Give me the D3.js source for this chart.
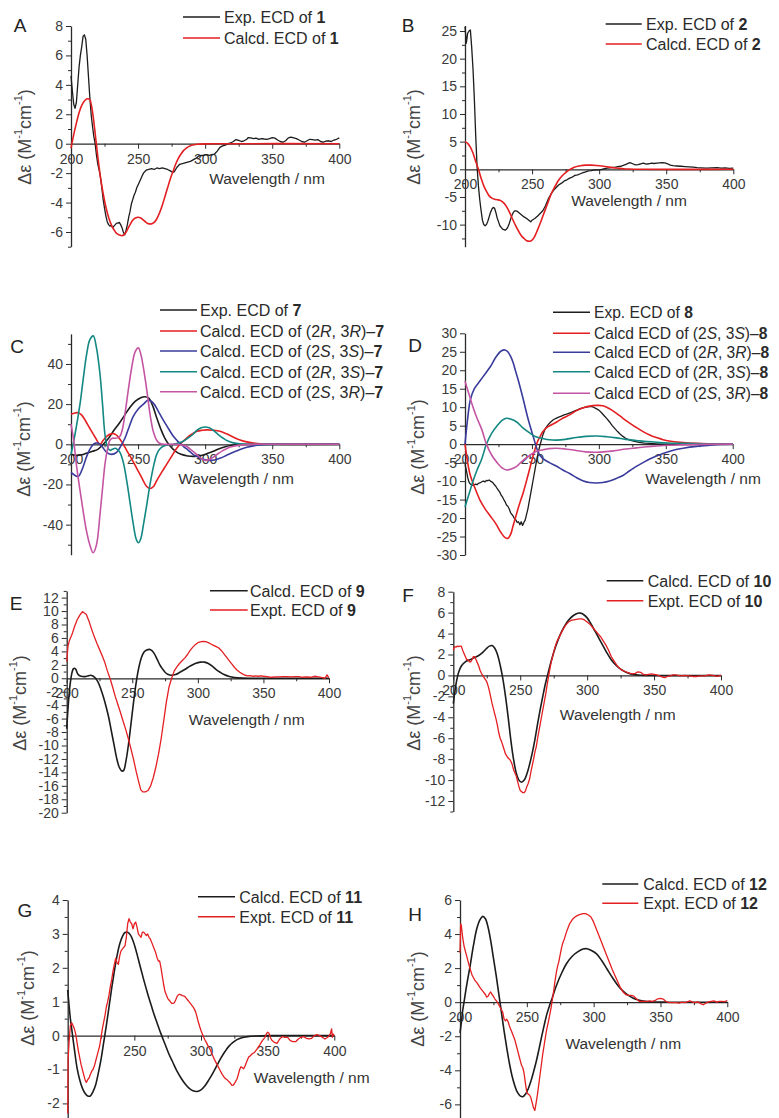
<!DOCTYPE html>
<html><head><meta charset="utf-8">
<script src="https://cdn.jsdelivr.net/npm/d3@7/dist/d3.min.js"></script>
<style>
body{margin:0;background:#fff;}
svg{display:block;}
text{font-family:"Liberation Sans",Arial,Helvetica,sans-serif;}
</style>
</head><body>
<svg id="c" width="779" height="1118"></svg>
<script>
// ---------------- DATA ----------------
const xTicks = [200,250,300,350,400];
const xMinor = [225,275,325,375];

const A_exp = [[200,4.6],[201,3.6],[202,2.7],[203,2.4],[204,2.8],[205,4.0],[206,5.2],[207,6.0],[208,6.6],[209,7.3],[210,7.4],[211,7.1],[212,6.0],[213,4.6],[214,3.2],[215,2.0],[216,1.2],[217,0.5],[218,0],[219,-0.8],[220,-1.4],[221,-1.8],[222,-2.3],[223,-3.0],[224,-3.8],[225,-4.4],[226,-4.9],[227,-5.3],[228,-5.5],[229,-5.6],[230,-5.55],[231,-5.7],[232,-5.6],[233,-5.5],[234,-5.4],[235,-5.4],[236,-5.35],[237,-5.5],[238,-5.7],[239,-6.0],[240,-6.2],[241,-5.9],[242,-5.5],[243,-5.0],[244,-4.6],[245,-4.1],[246,-3.8],[247,-3.5],[248,-3.3],[249,-3.0],[250,-2.8],[251,-2.6],[252,-2.4],[253,-2.2],[254,-2.0],[256,-1.8],[258,-1.75],[260,-1.7],[262,-1.75],[264,-1.65],[266,-1.7],[268,-1.65],[270,-1.7],[272,-1.75],[274,-1.85],[276,-1.95],[277,-1.9],[279,-1.6],[281,-1.4],[283,-1.35],[285,-1.3],[287,-1.25],[289,-1.2],[291,-1.1],[293,-1.0],[295,-0.85],[297,-0.8],[299,-0.8],[301,-0.75],[303,-0.8],[305,-0.75],[307,-0.7],[309,-0.5],[311,-0.25],[313,-0.15],[315,-0.1],[317,0],[319,0.05],[321,0.15],[323,0.28],[325,0.22],[327,0.15],[329,0.2],[331,0.3],[332,0.42],[334,0.4],[336,0.35],[338,0.38],[340,0.3],[342,0.35],[344,0.32],[346,0.3],[348,0.35],[350,0.42],[352,0.38],[354,0.25],[356,0.15],[358,0.1],[360,0.2],[362,0.4],[364,0.45],[366,0.4],[368,0.35],[370,0.25],[372,0.15],[374,0.1],[376,0.2],[378,0.3],[380,0.28],[382,0.25],[384,0.28],[386,0.15],[388,0.1],[390,0.18],[392,0.2],[394,0.15],[396,0.25],[398,0.3],[400,0.4]];
const A_calc = [[200,-0.3],[202,0.6],[204,1.4],[206,2.1],[208,2.6],[210,2.9],[212,3.05],[214,3.0],[215,2.7],[216,2.2],[217,1.5],[218,0.7],[219,-0.1],[220,-0.9],[222,-2.3],[224,-3.4],[226,-4.3],[228,-5.0],[230,-5.5],[232,-5.85],[234,-6.1],[236,-6.2],[238,-6.25],[240,-6.15],[242,-5.85],[244,-5.5],[246,-5.2],[248,-5.05],[250,-5.0],[252,-5.05],[254,-5.2],[256,-5.35],[258,-5.45],[260,-5.45],[262,-5.35],[264,-5.1],[266,-4.7],[268,-4.2],[270,-3.6],[272,-3.0],[274,-2.4],[276,-1.9],[278,-1.4],[280,-1.0],[282,-0.7],[284,-0.45],[286,-0.3],[288,-0.18],[290,-0.1],[294,-0.04],[300,-0.01],[310,0],[400,0]];

const B_exp = [[200,25.8],[201,22.8],[202,24.6],[203,25],[204,25.2],[205,22],[206,18],[207,12.5],[208,6],[209,0.5],[210,-3],[211,-5.5],[212,-7.5],[213,-9.2],[214,-10],[215,-10.2],[216,-10],[217,-9.4],[218,-8.6],[219,-7.8],[220,-7.2],[221,-6.9],[222,-7.0],[223,-7.8],[224,-8.8],[225,-9.5],[226,-10.2],[228,-10.8],[230,-11.0],[231,-10.8],[232,-10.4],[233,-9.8],[234,-9.0],[235,-8.3],[236,-7.8],[237,-7.5],[238,-7.5],[239,-7.6],[240,-7.8],[242,-8.2],[244,-8.6],[246,-8.9],[248,-9.3],[249,-9.5],[250,-9.2],[252,-8.9],[254,-8.5],[256,-8.0],[258,-7.5],[260,-6.6],[262,-5.4],[264,-4.5],[266,-3.8],[268,-3.3],[270,-2.8],[272,-2.5],[274,-2.1],[276,-1.9],[278,-1.6],[280,-1.4],[282,-1.1],[284,-1.0],[286,-0.8],[288,-0.6],[290,-0.45],[292,-0.3],[294,-0.25],[296,-0.15],[298,-0.1],[300,-0.1],[302,0],[304,0.1],[306,0.2],[308,0.25],[310,0.35],[312,0.4],[314,0.5],[316,0.55],[318,0.7],[320,0.9],[322,1.1],[323,1.2],[325,1.0],[327,0.8],[329,0.85],[331,1.0],[333,1.1],[335,0.95],[337,1.0],[339,1.1],[341,1.05],[343,1.1],[345,1.15],[347,1.2],[349,1.15],[351,1.0],[353,0.75],[355,0.65],[358,0.6],[361,0.55],[364,0.5],[367,0.45],[370,0.4],[373,0.3],[376,0.25],[380,0.2],[384,0.25],[388,0.3],[391,0.2],[394,0.25],[397,0.15],[400,0.2]];
const B_calc = [[200,5],[202,4.7],[204,4.0],[206,2.9],[208,1.4],[210,0],[212,-1.6],[214,-3.0],[216,-4.0],[218,-4.8],[220,-5.2],[222,-5.4],[224,-5.5],[226,-5.6],[228,-5.9],[230,-6.4],[232,-7.2],[234,-8.2],[236,-9.3],[238,-10.3],[240,-11.2],[242,-12.0],[244,-12.5],[246,-12.9],[248,-13.0],[250,-12.8],[252,-12.1],[254,-11.0],[256,-9.8],[258,-8.5],[260,-7.2],[262,-5.9],[264,-4.6],[266,-3.6],[268,-2.7],[270,-1.9],[272,-1.3],[274,-0.8],[276,-0.4],[278,-0.05],[280,0.2],[282,0.4],[284,0.55],[286,0.65],[290,0.75],[294,0.75],[298,0.7],[302,0.6],[306,0.45],[310,0.3],[314,0.2],[318,0.1],[322,0.05],[330,0],[400,0]];

const C_exp = [[200,-5],[204,-5.5],[208,-5.2],[212,-4.3],[216,-3.5],[220,-2.5],[224,0],[228,3],[232,7],[236,10.5],[240,14.5],[244,18.5],[248,21.5],[252,23.2],[255,23.7],[258,23],[261,19],[264,13],[267,7.5],[270,3],[274,-1],[278,-3.5],[282,-5],[287,-5.8],[292,-6],[297,-5.6],[302,-4.5],[306,-3.5],[310,-2.3],[315,-1.2],[320,-0.5],[326,-0.1],[335,0],[400,0]];
const C_RR = [[200,15],[203,15.6],[205.5,15.7],[208,14.5],[211,11.5],[214,8],[218,3.5],[221.6,0],[224,2],[227,4.2],[230,5.2],[232,5.3],[234,4.5],[236.5,2.5],[239,0],[241.5,-3],[245,-7],[249,-12],[253,-17],[256.4,-21],[259,-22],[261.5,-21],[264,-18],[268,-13.5],[271.3,-10],[275,-6],[278.8,-2],[282,0.5],[286,3],[290,5],[294,6.5],[298,7],[301,7.2],[306,7],[311,6.5],[316,5.2],[321,3.6],[326,2.2],[331,1.2],[336,0.6],[341,0.2],[348,0],[400,0]];
const C_SS = [[200,-14],[203,-15.5],[205.5,-16],[208,-13],[211.7,-6],[214,-2.5],[216.6,0],[218.5,0.6],[220.4,0.5],[223,-1],[226.6,-4],[230.3,-5],[234,-4],[237,-1],[240.2,3],[243,8],[246.5,14],[250,17.5],[254,20],[257.6,22],[261.4,20.5],[265,16.5],[268.8,12],[272.5,8],[276.3,4],[280,1.2],[283.7,-1],[287.5,-3],[291,-5],[295,-6.5],[298.6,-7.5],[303.6,-8],[307,-7.8],[311,-7],[316,-5.5],[321,-4],[326,-2.6],[331,-1.5],[336,-0.8],[341,-0.3],[348,-0.05],[355,0],[400,0]];
const C_RS = [[200,-5],[203,5],[206.7,20],[209,32],[211.7,45],[214,52],[216.6,54],[219,48],[221.6,35],[223.5,20],[225.3,5],[227,-1],[229,-3],[230.8,-2.5],[232.8,-2],[234.5,-2.5],[236.5,-4],[239,-9],[241.5,-18],[244,-29],[246.5,-40],[248.5,-47],[250.2,-49],[252,-47],[254,-40],[256.5,-30],[258.9,-20],[261.5,-11],[263.9,-5],[266,-2.5],[268.8,-1],[272,-0.3],[276.3,0],[280,0.6],[283.7,1.5],[287,3],[291,5],[294,7],[297,8.2],[300,8.6],[303,8.2],[306,7],[309.5,5],[313.5,3],[317,1.6],[321,0.7],[326,0.2],[332,0],[400,0]];
const C_SR = [[200,10],[202,2],[204,-10],[206.5,-22],[209,-33],[211.5,-43],[214,-50],[216.5,-54],[219,-50],[221.6,-35],[223.5,-22],[225.3,-10],[227,-3],[229,2],[230.8,3],[232.8,3],[234.7,3.2],[236.5,4],[238.5,8],[240.2,15],[242.7,27],[245.2,38],[247.8,46],[250.2,48],[252,45],[254,38],[256.5,27],[258.9,15],[261.5,6],[263.9,2],[266,0.5],[268.8,0],[278.8,0],[282,-0.3],[286,-1],[290,-3],[293.7,-5],[297,-7],[300,-8],[302.5,-7.8],[306,-6.5],[309.5,-4.7],[313.5,-3],[317,-1.8],[321,-1],[326,-0.4],[332,-0.1],[340,0],[400,0]];

const D_exp = [[200,-5.5],[201,-7],[202,-9],[203,-10.3],[204,-10.8],[205,-11],[206,-11.2],[207,-11],[208,-10.8],[209,-11],[210,-10.6],[211,-10.5],[212,-10.3],[213,-10.1],[214,-10.0],[215,-10.2],[216,-9.8],[217,-9.9],[218,-9.7],[219,-10],[220,-10.2],[221,-10.5],[222,-11],[223,-11.4],[224,-12],[225,-12.5],[226,-13],[227,-13.8],[228,-14.3],[229,-15],[230,-15.6],[231,-16.5],[232,-16.8],[233,-17.5],[234,-18.5],[235,-19],[236,-19.5],[237,-20.2],[238,-20.5],[239,-21.2],[240,-21],[241,-21.8],[242,-21],[243,-22],[244,-21.2],[245,-20.5],[246,-19],[247,-17.5],[248,-15.5],[249,-13.5],[250,-11.5],[251,-9.5],[252,-7.5],[253,-5.5],[254,-3.5],[255,-1.8],[256,-0.3],[257,1],[258,2.3],[259,3.3],[260,4.2],[262,5.2],[264,6],[266,6.6],[268,7],[270,7.3],[272,7.6],[274,7.9],[276,8.1],[278,8.4],[280,8.7],[282,9],[284,9.3],[286,9.6],[288,9.8],[290,10],[292,10.1],[294,10.2],[296,10],[298,9.6],[300,9.2],[302,8.5],[304,7.7],[306,6.9],[308,6],[310,5],[312,4.2],[314,3.4],[316,2.7],[318,2.1],[320,1.6],[323,1.1],[326,0.8],[330,0.5],[334,0.3],[338,0.2],[343,0.1],[348,0],[400,0]];
const D_SS = [[200,0],[202,-5],[204,-8.5],[207,-11.5],[211,-15],[215,-17.5],[219,-19.5],[223,-21.5],[227,-24],[230,-25.3],[232,-25.5],[234,-24.5],[236,-22],[238,-19.5],[240,-17],[243.6,-13],[247,-8.5],[251,-3],[254,0.5],[256,2],[258,3.3],[261,4.5],[265,5.3],[268.5,6],[273,7],[278.5,8],[283,9],[288,9.8],[293,10.3],[298.4,10.5],[303,10.4],[308,9.6],[313,8.4],[318,7],[323,5.7],[328,4.5],[333,3.4],[338,2.5],[343,1.8],[348,1.2],[355,0.7],[363,0.4],[373,0.2],[383,0.1],[400,0]];
const D_RR = [[200,0],[202,7],[204,12],[207,15],[211,17],[215,19],[219,21],[223,23.5],[227,25.2],[229.9,25.5],[232,25],[234,23.8],[236,22],[238,19.5],[240,17],[243.6,12],[247,7],[251,2],[254,-1.5],[256,-3],[258.5,-4],[263,-5],[268.5,-6],[273,-7],[278.5,-8],[283,-9],[288,-9.9],[293,-10.4],[298.4,-10.5],[303,-10.4],[308,-10],[313,-9.3],[318,-8.5],[323,-7.2],[328,-6],[333,-5],[338,-4],[343,-3.2],[348,-2.5],[355,-1.7],[363,-1.1],[373,-0.6],[383,-0.3],[392,-0.1],[400,0]];
const D_RS = [[200,-17],[203,-13.5],[206,-10],[209,-7],[212.5,-4],[216,0],[220,3],[224,5],[228,6.5],[231,7],[234,6.8],[238.6,6],[243,4.5],[248.6,3],[253,2],[258.5,1.5],[263,1.2],[268.5,1.1],[275,1.3],[283,1.8],[290,2.1],[298.4,2.2],[306,2],[313,1.7],[320,1.3],[328,1],[336,0.7],[343,0.5],[352,0.3],[363,0.2],[380,0.05],[400,0]];
const D_SR = [[200,17],[203,13.5],[206,10],[209,7],[212.5,4],[216,0],[220,-3],[224,-5],[228,-6.5],[231,-7],[234,-6.8],[238.6,-6],[243,-4.5],[248.6,-3],[253,-2],[258.5,-1.5],[263,-1.2],[268.5,-1.1],[275,-1.3],[283,-1.7],[290,-2.1],[298.4,-2.2],[306,-2],[313,-1.7],[320,-1.3],[328,-1],[336,-0.7],[343,-0.5],[352,-0.3],[363,-0.2],[380,-0.05],[400,0]];

const E_calc = [[200,-7.5],[201,-4.5],[202,-2],[203,-0.3],[204,0.8],[205,1.4],[206,1.5],[207,1.3],[208,0.8],[209,0.5],[211,0.3],[214,0.25],[216,0.35],[218,0.45],[220,0.35],[222,0],[224,-0.6],[226,-1.6],[228,-2.8],[230,-4.2],[232,-5.8],[234,-7.8],[236,-9.8],[238,-11.8],[240,-13.2],[242,-13.8],[243.5,-13.7],[245,-12.5],[247,-10],[249,-6.8],[251,-3.5],[253,-0.6],[255,1.6],[257,3.1],[259,3.9],[261,4.2],[263,4.3],[265,4.1],[267,3.6],[269,2.8],[271,2.0],[273,1.4],[275,0.9],[277,0.6],[280,0.45],[283,0.55],[286,0.85],[290,1.3],[294,1.8],[298,2.2],[302,2.4],[305,2.4],[308,2.2],[311,1.8],[314,1.3],[317,0.9],[320,0.55],[324,0.25],[328,0.1],[334,0.02],[340,0],[400,0]];
const E_exp = [[200,2.5],[201,4.8],[202,5.6],[204,6.5],[206,7.7],[208,8.7],[210,9.4],[212,9.9],[213,9.8],[215,9.5],[217,8.5],[219,7.3],[221,6.2],[223,5.2],[225,4.3],[227,3.4],[229,2.4],[231,1.1],[233,0],[235,-1.3],[237,-2.7],[239,-3.9],[241,-5.1],[243,-6.4],[245,-7.6],[247,-9.0],[249,-10.5],[251,-12.1],[253,-13.9],[255,-15.5],[256.5,-16.6],[258,-16.9],[260,-16.9],[262,-16.7],[264,-16.0],[266,-14.8],[268,-13.2],[270,-11.3],[272,-9.0],[274,-6.3],[276,-3.5],[278,-1.3],[280,0],[282,1.1],[284,1.7],[286,2.2],[288,2.6],[290,3.0],[292,3.5],[294,4.1],[296,4.6],[298,5.0],[300,5.3],[302,5.4],[304,5.5],[306,5.45],[308,5.3],[310,5.1],[312,4.9],[314,4.7],[316,4.5],[318,4.1],[320,3.6],[322,3.1],[324,2.6],[326,2.1],[328,1.6],[330,1.2],[332,0.9],[334,0.65],[336,0.45],[338,0.35],[340,0.4],[342,0.3],[344,0.35],[346,0.3],[348,0.35],[350,0.3],[353,0.25],[356,0.15],[359,0.2],[362,0.2],[365,0.25],[368,0.25],[371,0.2],[374,0.25],[377,0.25],[380,0.15],[383,0.2],[386,0.15],[389,0.3],[392,0.2],[395,0.1],[397,0.0],[398.5,0.5],[399.5,0.2],[400,0.1]];

const F_calc = [[200,-2.7],[201,-1.7],[202.5,-0.5],[204,0.3],[206,0.9],[209,1.3],[212.5,1.5],[216,1.7],[219,1.9],[222,2.2],[225,2.6],[227,2.8],[229,2.85],[231,2.6],[233,2.0],[235,1.0],[237,-0.3],[239,-2.0],[241,-4.0],[243,-6.2],[245,-8.0],[247,-9.3],[249,-10.0],[251,-10.2],[253,-10.0],[255,-9.4],[257,-8.5],[259,-7.4],[261,-6.1],[263,-4.6],[265,-3.2],[267,-1.9],[269,-0.7],[271,0.3],[273,1.3],[275,2.2],[278,3.3],[281,4.2],[284,4.9],[287,5.4],[290,5.75],[293,5.95],[295,5.95],[297,5.85],[300,5.5],[303,4.9],[306,4.2],[309,3.5],[312,2.8],[315,2.1],[318,1.5],[321,1.05],[324,0.7],[327,0.45],[330,0.25],[334,0.1],[340,0.02],[346,0],[400,0]];
const F_exp = [[200,2.4],[201,2.75],[202,2.7],[203,2.8],[204,2.75],[205,2.8],[206,2.8],[207,2.4],[208,2.1],[209,1.8],[210,1.5],[211,1.5],[212,1.3],[213,1.3],[214,1.5],[215,1.8],[216,1.8],[217,1.5],[218,1.2],[219,0.9],[220,0.5],[221,0.2],[222,0.0],[223,-0.2],[224,-0.4],[225,-0.6],[226,-1.0],[227,-1.5],[228,-2.1],[229,-2.7],[230,-3.2],[231,-3.7],[232,-4.2],[233,-4.8],[234,-5.5],[235,-6.0],[236,-6.3],[237,-6.7],[238,-7.1],[239,-7.5],[240,-7.7],[241,-7.9],[242,-8.0],[243,-8.2],[244,-8.5],[245,-9.0],[246,-9.3],[247,-9.6],[248,-10.1],[249,-10.6],[250,-11.0],[251,-11.1],[252,-11.2],[253,-11.2],[254,-11.0],[255,-10.6],[256,-10.3],[257,-9.9],[258,-9.2],[259,-8.6],[260,-8.0],[261,-7.3],[262,-6.8],[263,-6.0],[264,-5.3],[265,-4.6],[266,-3.9],[267,-3.2],[268,-2.5],[269,-1.8],[270,-1.0],[271,-0.2],[272,0.5],[273,1.2],[274,1.7],[275,2.2],[276,2.7],[277,3.1],[278,3.4],[280,3.9],[282,4.4],[284,4.8],[286,5.1],[288,5.25],[290,5.3],[292,5.35],[294,5.4],[296,5.4],[298,5.3],[300,5.1],[302,4.9],[304,4.6],[306,4.3],[308,4.0],[310,3.7],[312,3.3],[314,2.9],[316,2.4],[318,1.8],[320,1.4],[322,1.0],[324,0.7],[326,0.5],[328,0.4],[330,0.3],[332,0.2],[334,0.15],[336,0.2],[338,0.35],[340,0.3],[342,0.1],[344,0.05],[346,0.1],[348,0.15],[350,0.1],[352,0.05],[354,-0.05],[356,-0.15],[358,-0.2],[360,-0.1],[362,-0.05],[364,0.05],[366,0.05],[368,0],[370,-0.05],[373,0],[376,-0.05],[379,-0.1],[382,-0.1],[385,-0.05],[388,-0.05],[391,0.05],[394,0],[397,-0.1],[400,0]];

const G_calc = [[200,1.35],[201,0.9],[202,0.5],[203,0.2],[205,-0.4],[207,-0.95],[209,-1.3],[211,-1.55],[213,-1.7],[215,-1.78],[217,-1.78],[219,-1.65],[221,-1.45],[223,-1.1],[225,-0.7],[227,-0.2],[229,0.3],[231,0.85],[233,1.4],[235,1.9],[237,2.35],[239,2.7],[241,2.92],[243,3.04],[245,3.05],[247,2.97],[249,2.8],[251,2.55],[253,2.25],[255,1.95],[257,1.65],[259,1.37],[261,1.1],[263,0.85],[265,0.6],[267,0.38],[270,0.05],[273,-0.25],[276,-0.55],[279,-0.8],[282,-1.05],[285,-1.25],[288,-1.42],[291,-1.55],[294,-1.63],[297,-1.65],[300,-1.6],[303,-1.48],[306,-1.3],[309,-1.1],[312,-0.88],[315,-0.66],[318,-0.47],[321,-0.31],[324,-0.2],[327,-0.12],[330,-0.07],[335,-0.03],[342,-0.01],[350,0],[400,0]];
const G_exp = [[200,-2.3],[200.3,-0.7],[201,-0.2],[202,0.3],[203,0.38],[204,0.3],[205,0.2],[206,0.05],[207,-0.2],[208,-0.45],[209,-0.65],[210,-0.85],[211,-1.0],[212,-1.15],[213,-1.3],[214,-1.38],[215,-1.3],[216,-1.25],[217,-1.15],[218,-1.05],[219,-1.0],[220,-0.9],[221,-0.75],[222,-0.6],[223,-0.45],[224,-0.3],[225,-0.05],[226,0.2],[227,0.4],[228,0.6],[229,0.85],[230,1.0],[231,1.2],[232,1.45],[233,1.65],[234,1.9],[235,2.1],[236,2.28],[237,2.15],[238,2.1],[239,2.35],[240,2.5],[241,2.55],[242,2.6],[243,2.65],[244,2.9],[245,3.3],[246,3.45],[247,3.35],[248,3.3],[249,3.15],[250,3.3],[251,3.35],[252,3.2],[253,3.0],[254,2.95],[255,2.9],[256,3.05],[257,3.05],[258,3.0],[259,2.95],[260,3.0],[261,2.9],[262,2.85],[263,2.75],[264,2.65],[265,2.55],[266,2.45],[267,2.3],[268,2.2],[269,2.2],[270,2.0],[271,1.75],[272,1.5],[273,1.3],[274,1.2],[275,1.1],[276,1.05],[277,1.0],[278,0.95],[279,0.95],[280,0.97],[281,1.05],[282,1.15],[283,1.2],[284,1.22],[285,1.2],[286,1.18],[287,1.17],[288,1.15],[289,1.1],[290,1.05],[291,1.0],[292,0.95],[293,0.9],[294,0.85],[295,0.78],[296,0.7],[297,0.55],[298,0.4],[299,0.27],[300,0.15],[301,0.05],[302,-0.05],[303,-0.13],[304,-0.2],[305,-0.28],[306,-0.35],[307,-0.42],[308,-0.52],[310,-0.7],[312,-0.85],[314,-1.0],[316,-1.15],[318,-1.26],[320,-1.32],[322,-1.4],[323,-1.46],[324,-1.47],[325,-1.42],[326,-1.35],[327,-1.28],[328,-1.15],[329,-1.0],[330,-0.92],[331,-0.95],[332,-0.98],[333,-0.9],[334,-0.8],[335,-0.7],[336,-0.62],[337,-0.6],[338,-0.55],[339,-0.52],[340,-0.5],[342,-0.4],[344,-0.28],[346,-0.15],[348,-0.05],[349,0.05],[350,0.1],[351,0.07],[352,-0.05],[353,-0.13],[355,-0.2],[357,-0.23],[359,-0.1],[361,-0.03],[363,-0.05],[365,-0.05],[367,-0.15],[369,-0.18],[371,-0.18],[373,-0.1],[375,-0.05],[377,-0.03],[379,-0.08],[381,-0.1],[383,-0.08],[385,0],[387,0.03],[389,0.0],[391,-0.05],[393,-0.1],[395,-0.05],[397,0.05],[398,0.2],[398.5,-0.05],[399,0.05],[400,0]];

const H_calc = [[200,-1.8],[201,-1.2],[202,-0.5],[203,0],[205,1.0],[207.5,2.1],[210,3.3],[212.5,4.3],[215,4.85],[217,5.04],[219,4.9],[221,4.4],[223,3.6],[225,2.6],[227,1.6],[229,0.5],[231,-0.6],[233,-1.7],[235,-2.7],[237,-3.6],[239,-4.35],[241,-4.9],[243,-5.3],[245,-5.5],[247,-5.55],[249,-5.4],[251,-5.1],[253,-4.65],[255,-4.1],[257,-3.5],[259,-2.8],[261,-2.05],[263,-1.35],[265,-0.7],[267,-0.2],[269,0.25],[272,0.95],[276,1.7],[280,2.3],[284,2.7],[288,2.95],[292,3.12],[295,3.14],[298,3.05],[302,2.85],[306,2.45],[310,1.95],[314,1.45],[318,1.0],[322,0.65],[326,0.4],[330,0.22],[335,0.1],[340,0.04],[346,0.01],[355,0],[400,0]];
const H_exp = [[200,2.9],[200.5,4.6],[201,4.5],[202,3.8],[203,3.3],[205,2.7],[207,2.1],[209,1.6],[211,1.3],[213,1.1],[215,0.85],[217,0.65],[219,0.45],[220,0.3],[221,0.35],[222,0.5],[223,0.6],[224,0.45],[225,0.35],[226,0.2],[228,0.0],[230,-0.3],[232,-0.6],[233,-1.0],[234,-1.1],[235,-1.0],[236,-1.15],[237,-1.4],[238,-1.6],[239,-1.8],[240,-2.0],[241,-2.2],[242,-2.5],[243,-2.8],[244,-3.1],[245,-3.4],[246,-3.7],[247,-3.85],[248,-4.2],[249,-4.8],[250,-5.3],[251,-5.4],[252,-5.45],[253,-5.6],[254,-5.9],[255,-6.2],[256,-6.35],[257,-5.9],[258,-5.4],[259,-4.8],[260,-4.2],[261,-3.6],[262,-3.0],[263,-2.5],[264,-2.0],[265,-1.55],[266,-1.2],[267,-0.8],[268,-0.4],[269,0.1],[270,0.6],[271,1.2],[272,1.7],[273,2.1],[274,2.4],[275,2.8],[276,3.2],[277,3.5],[278,3.7],[280,4.2],[282,4.6],[284,4.85],[286,5.0],[288,5.1],[290,5.15],[292,5.2],[294,5.2],[296,5.12],[298,5.0],[300,4.7],[302,4.3],[304,3.9],[306,3.5],[308,3.1],[310,2.7],[312,2.3],[314,1.9],[316,1.55],[318,1.2],[320,0.85],[322,0.6],[324,0.45],[326,0.4],[328,0.4],[330,0.35],[332,0.2],[334,0.05],[336,0.05],[338,0.05],[340,0.05],[342,0.08],[344,0.05],[346,0.1],[348,0.2],[350,0.22],[352,0.18],[354,0.05],[356,-0.02],[358,-0.02],[360,-0.03],[362,-0.03],[364,-0.05],[366,0.0],[368,-0.02],[370,0.02],[372,0.08],[374,0.0],[376,-0.02],[378,0.02],[380,-0.08],[382,-0.15],[384,-0.05],[386,0.02],[388,0.05],[390,0.08],[392,0.0],[394,0.05],[396,0.05],[398,0.03],[400,0.1]];

// tick values (labels) for each panel's y axis
const yTicksA = [-6,-4,-2,0,2,4,6,8];
const yTicksB = [-10,-5,0,5,10,15,20,25];
const yTicksC = [-40,-20,0,20,40];
const yTicksD = [-30,-25,-20,-15,-10,-5,0,5,10,15,20,25,30];
const yTicksE = [-20,-18,-16,-14,-12,-10,-8,-6,-4,-2,0,2,4,6,8,10,12];
const yTicksF = [-12,-10,-8,-6,-4,-2,0,2,4,6,8];
const yTicksG = [-2,-1,0,1,2,3,4];
const yTicksH = [-6,-4,-2,0,2,4,6];

// legend labels (<i> italic, <b> bold)
const legA = ["Exp. ECD of <b>1</b>","Calcd. ECD of <b>1</b>"];
const legB = ["Exp. ECD of <b>2</b>","Calcd. ECD of <b>2</b>"];
const legC = ["Exp. ECD of <b>7</b>","Calcd. ECD of (2<i>R</i>, 3<i>R</i>)–<b>7</b>","Calcd. ECD of (2<i>S</i>, 3<i>S</i>)–<b>7</b>","Calcd. ECD of (2<i>R</i>, 3<i>S</i>)–<b>7</b>","Calcd. ECD of (2<i>S</i>, 3<i>R</i>)–<b>7</b>"];
const legD = ["Exp. ECD of <b>8</b>","Calcd ECD of (2<i>S</i>, 3<i>S</i>)–<b>8</b>","Calcd ECD of (2<i>R</i>, 3<i>R</i>)–<b>8</b>","Calcd ECD of (2R, 3<i>S</i>)–<b>8</b>","Calcd ECD of (2<i>S</i>, 3<i>R</i>)–<b>8</b>"];
const legE = ["Calcd. ECD of <b>9</b>","Expt. ECD of <b>9</b>"];
const legF = ["Calcd. ECD of <b>10</b>","Expt. ECD of <b>10</b>"];
const legG = ["Calcd. ECD of <b>11</b>","Expt. ECD of <b>11</b>"];
const legH = ["Calcd. ECD of <b>12</b>","Expt. ECD of <b>12</b>"];

// ---------------- DRAWING ----------------
const K="#1c1c1c", R="#e41f22", BL="#3a3c9c", T="#138882", M="#c455a3";
const svg = d3.select("#c");

const panels = [
 {L:"A", x0:71, x1:339.3, dom:[-7,8], rng:[246.7,26], yt:yTicksA, ym:1, letter:[20,25], ylab:[25,137], xlab:[267,178],
  leg:{a:183,b:220,t:224,rows:[17,38]}, labels:legA, fs:16,
  series:[{d:A_exp,c:K,exp:true},{d:A_calc,c:R}]},
 {L:"B", x0:465, x1:733.3, dom:[-14,26], rng:[246.75,25.47], yt:yTicksB, ym:2.5, letter:[408,25], ylab:[414,137], xlab:[629,200],
  leg:{a:605.7,b:641.7,t:646,rows:[24,44]}, labels:legB, fs:16,
  series:[{d:B_exp,c:K,exp:true},{d:B_calc,c:R}]},
 {L:"C", x0:71, x1:339.3, dom:[-55,55], rng:[554.75,333.85], yt:yTicksC, ym:10, letter:[17,346], ylab:[24,449], xlab:[236,478.3],
  leg:{a:160,b:197,t:200,rows:[310,331,351,371.7,391.7]}, labels:legC, fs:16,
  series:[{d:C_exp,c:K},{d:C_RR,c:R},{d:C_SS,c:BL},{d:C_RS,c:T},{d:C_SR,c:M}]},
 {L:"D", x0:465, x1:732.7, dom:[-30,30], rng:[555,333.3], yt:yTicksD, ym:null, letter:[415,345], ylab:[418,447], xlab:[703,478.3],
  leg:{a:553,b:590,t:594,rows:[312.3,333.3,352.3,371.7,393.3]}, labels:legD, fs:15.6,
  series:[{d:D_exp,c:K,exp:true},{d:D_SS,c:R},{d:D_RR,c:BL},{d:D_RS,c:T},{d:D_SR,c:M}]},
 {L:"E", x0:66.7, x1:329, dom:[-20,13], rng:[812.7,590.9], yt:yTicksE, ym:1, letter:[16,603], ylab:[20,703], xlab:[246.7,719],
  leg:{a:210,b:247.7,t:250,rows:[590.7,610]}, labels:legE, fs:16,
  series:[{d:E_calc,c:K},{d:E_exp,c:R,exp:true}]},
 {L:"F", x0:453.3, x1:721, dom:[-13,8], rng:[811.5,591.7], yt:yTicksF, ym:1, letter:[408,595], ylab:[414,703], xlab:[617.7,714],
  leg:{a:606.7,b:643.3,t:647.7,rows:[580.7,600.7]}, labels:legF, fs:16,
  series:[{d:F_calc,c:K},{d:F_exp,c:R,exp:true}]},
 {L:"G", x0:67.7, x1:334.3, dom:[-2.5,4], rng:[1120.35,900], yt:yTicksG, ym:0.5, letter:[25,910], ylab:[28,998], xlab:[311.7,1077.3],
  leg:{a:198,b:235,t:239.3,rows:[896.7,916.7]}, labels:legG, hide200:true, fs:16,
  series:[{d:G_calc,c:K},{d:G_exp,c:R,exp:true}]},
 {L:"H", x0:460, x1:727.3, dom:[-7,6], rng:[1121.4,900], yt:yTicksH, ym:1, letter:[415,914], ylab:[418,999], xlab:[623.3,1043.3],
  leg:{a:602.3,b:638.3,t:643.3,rows:[884,903.3]}, labels:legH, fs:16,
  series:[{d:H_calc,c:K},{d:H_exp,c:R,exp:true}]}
];

function richText(sel, str){
  const re = /<(i|b)>(.*?)<\/\1>|([^<]+)/g; let m;
  while((m = re.exec(str))){
    if(m[3]) sel.append("tspan").text(m[3]);
    else { const t = sel.append("tspan").text(m[2]);
      if(m[1]==="i") t.attr("font-style","italic"); else t.attr("font-weight","bold"); }
  }
}

panels.forEach(p=>{
  const x = d3.scaleLinear().domain([200,400]).range([p.x0,p.x1]);
  const y = d3.scaleLinear().domain(p.dom).range(p.rng);
  const g = svg.append("g");
  const axCol = "#2a2a2a", lblCol = "#3a3a3a";
  const fmt = v => String(v);

  // y minor ticks
  if(p.ym){
    const mins = d3.range(Math.ceil(p.dom[0]/p.ym)*p.ym, p.dom[1]+1e-9, p.ym).filter(v=>!p.yt.some(t=>Math.abs(t-v)<1e-6));
    g.append("g").attr("transform",`translate(${p.x0},0)`)
      .call(d3.axisLeft(y).tickValues(mins).tickSize(3).tickFormat("").tickSizeOuter(0))
      .call(s=>s.select(".domain").remove());
  }
  // y axis major
  const ya = g.append("g").attr("transform",`translate(${p.x0},0)`)
    .call(d3.axisLeft(y).tickValues(p.yt).tickSize(5).tickPadding(3).tickSizeOuter(0).tickFormat(fmt));
  ya.select(".domain").attr("stroke",axCol).attr("stroke-width",1.3);
  ya.selectAll(".tick text").attr("fill",lblCol).attr("font-size",14).attr("font-family","Liberation Sans, Arial, sans-serif");

  // x minor ticks
  g.append("g").attr("transform",`translate(0,${y(0)})`)
    .call(d3.axisBottom(x).tickValues(xMinor).tickSize(3).tickFormat("").tickSizeOuter(0))
    .call(s=>s.select(".domain").remove());
  // x axis at zero
  const xa = g.append("g").attr("transform",`translate(0,${y(0)})`)
    .call(d3.axisBottom(x).tickValues(xTicks).tickSize(5).tickPadding(5).tickSizeOuter(0)
      .tickFormat(v=> (p.hide200 && v===200) ? "" : fmt(v)));
  xa.select(".domain").attr("stroke",axCol).attr("stroke-width",1.3);
  xa.selectAll(".tick text").attr("fill",lblCol).attr("font-size",14).attr("font-family","Liberation Sans, Arial, sans-serif");
  g.selectAll(".tick line").attr("stroke",axCol);

  // axis titles
  g.append("text").attr("x",p.xlab[0]).attr("y",p.xlab[1]).attr("text-anchor","middle")
    .attr("dominant-baseline","central").attr("font-size",15.5).attr("fill","#333").text("Wavelength / nm");
  const yl = g.append("text").attr("transform",`translate(${p.ylab[0]},${p.ylab[1]}) rotate(-90)`)
    .attr("text-anchor","middle").attr("dominant-baseline","central")
    .attr("font-family","Liberation Serif, Times New Roman, serif").attr("font-size",18).attr("fill","#444");
  yl.append("tspan").text("Δε  (M");
  yl.append("tspan").attr("font-size",11).attr("dy",-7).text("-1");
  yl.append("tspan").attr("dy",7).text("cm");
  yl.append("tspan").attr("font-size",11).attr("dy",-7).text("-1");
  yl.append("tspan").attr("dy",7).text(")");

  // curves
  p.series.forEach(s=>{
    const line = d3.line().x(d=>x(d[0])).y(d=>y(d[1]))
      .curve(s.exp ? d3.curveLinear : d3.curveCatmullRom.alpha(0.5));
    g.append("path").datum(s.d).attr("d",line).attr("fill","none")
      .attr("stroke",s.c).attr("stroke-width",s.exp?1.3:1.6).attr("stroke-linejoin","round");
  });

  // legend
  p.labels.forEach((lab,i)=>{
    const yy = p.leg.rows[i];
    g.append("line").attr("x1",p.leg.a).attr("x2",p.leg.b).attr("y1",yy).attr("y2",yy)
      .attr("stroke",p.series[i].c).attr("stroke-width",1.6);
    const t = g.append("text").attr("x",p.leg.t).attr("y",yy).attr("dominant-baseline","central")
      .attr("font-size",p.fs).attr("fill","#2a2a2a");
    richText(t, lab);
  });

  // panel letter
  g.append("text").attr("x",p.letter[0]).attr("y",p.letter[1]).attr("text-anchor","middle")
    .attr("dominant-baseline","central").attr("font-size",19).attr("fill","#222").text(p.L);
});
</script>
</body></html>
